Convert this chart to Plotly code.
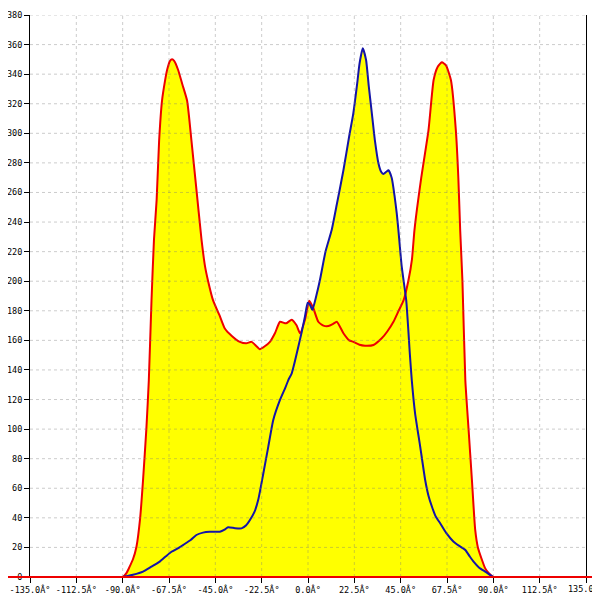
import plotly.graph_objects as go

# angle histogram
red_deg = [-180, -90, -88, -86.6, -85, -83.3, -81.5, -80.1, -78.5, -77.3, -76, -74.8, -73.5,
           -72.3, -70.9, -69.5, -68.4, -67, -66, -65, -63.1, -61, -58.7, -56.6, -54.4, -51.7,
           -50, -48.5, -46.1, -43, -40.4, -37, -33.1, -30, -27.4, -25, -23.4, -21, -18.5, -16,
           -13.6, -10.7, -7.9, -5.5, -3.9, -1.5, 0.6, 2.6, 5, 7.5, 9.9, 12, 14, 17.2, 20, 22,
           25, 27.7, 31.8, 35.8, 38.5, 41.5, 44, 46.4, 48.8, 50.5, 51.7, 55, 58.5, 61, 63, 65,
           67, 69.4, 71.8, 73, 73.9, 75, 76.4, 78, 79.6, 81.2, 82.5, 84.5, 86, 87.7, 90, 180]
red_val = [0, 0, 3, 7, 12, 20.5, 40, 65.6, 100, 133, 187, 228, 255,
           295, 322, 335, 343, 349, 350, 349, 343, 333, 322, 295, 265, 228,
           210, 200, 187, 177, 168, 163, 159, 158, 159, 156, 154, 156, 159, 165,
           172.6, 171.5, 174, 170, 164.8, 173.8, 186.8, 181.7, 172.6, 170, 169.7, 171, 172.6, 164.8, 160, 159,
           157, 156.4, 156.9, 161.4, 166, 172.6, 180, 187, 200.8, 215, 234.6, 270, 302, 336, 345, 348,
           346, 336, 302, 270, 234.6, 200, 133, 99.4, 65.6, 31.8, 20, 11.5, 6, 2.7, 0, 0]

blue_deg = [-90, -85, -80.1, -76, -72, -69, -66.3, -63, -60.7, -57, -54.2, -51, -47.7, -42.8,
            -40.5, -38.8, -35.5, -32.3, -30, -28.2, -26, -24.2, -21.7, -19.3, -16.9, -13.6, -11,
            -9.6, -7.9, -6.5, -4.7, -3, -1.5, -0.15, 1, 2.1, 4, 5.8, 8.5, 11.5, 14, 17.2, 20, 22,
            24, 25, 26.6, 28.2, 29.5, 31, 32.5, 34.2, 35.5, 36.6, 38, 39.1, 40.7, 42, 43.1, 43.9,
            45.5, 47.7, 49.5, 50.4, 52, 54.5, 56.9, 58.5, 60.2, 62, 64.2, 67, 70.7, 73.5, 76.4,
            78.5, 80.4, 83, 86.1, 89.4, 90]
blue_val = [0, 1.5, 3.6, 7, 10.4, 14, 17.1, 19.5, 21.6, 25, 28.4, 30, 30.6, 30.6,
            32, 33.6, 33, 32.9, 35, 38.5, 44, 52, 70, 88, 106, 119.7, 128,
            133, 137.7, 145, 155.7, 166, 176, 185.5, 184, 180.5, 190, 200.8, 220, 234.6, 252, 275, 298, 313.5,
            335, 347, 357.5, 349.6, 332, 313.5, 295, 279.7, 274, 272.5, 274, 275, 269.6, 258, 245.9, 234.6,
            210, 187, 150, 133, 110.7, 88, 65.6, 55, 47.5, 41, 36.3, 30, 23.9, 21, 18.3,
            14, 10.4, 6.5, 3.6, 0.5, 0]

x_ticks = [-135 + 22.5 * i for i in range(13)]
x_labels = [f"{v:.1f}Â°" for v in x_ticks]
y_ticks = list(range(0, 381, 20))

fig = go.Figure()

# yellow area under both curves, lines drawn afterwards
fig.add_trace(go.Scatter(x=blue_deg, y=blue_val, fill="tozeroy", fillcolor="#ffff00",
                         mode="lines", line=dict(width=0, shape="spline", smoothing=0.5),
                         hoverinfo="skip"))
fig.add_trace(go.Scatter(x=red_deg, y=red_val, fill="tozeroy", fillcolor="#ffff00",
                         mode="lines",
                         line=dict(color="#ee0000", width=2, shape="spline", smoothing=0.5)))
fig.add_trace(go.Scatter(x=blue_deg, y=blue_val, mode="lines",
                         line=dict(color="#1414a8", width=2, shape="spline", smoothing=0.5)))

# dashed grid sits above the fill in the reference
grid = dict(color="rgba(120,120,120,0.38)", width=1, dash="3px,3px")
for t in x_ticks[1:-1]:
    fig.add_shape(type="line", x0=t, x1=t, y0=0, y1=380, xref="x", yref="y",
                  line=grid, layer="above")
for t in y_ticks[1:]:
    fig.add_shape(type="line", x0=-135, x1=135, y0=t, y1=t, xref="x", yref="y",
                  line=grid, layer="above")

# red baseline runs across the whole picture (paper refs so it is not clipped)
fig.add_shape(type="line", x0=-0.06, x1=1.03, y0=0, y1=0, xref="paper", yref="paper",
              line=dict(color="#ee0000", width=2), layer="above")

# plotly hides the last tick label because it runs off the edge; the reference shows it cut
fig.add_annotation(x=x_ticks[-1], y=0, xref="x", yref="paper", text=x_labels[-1],
                   showarrow=False, yanchor="top", yshift=-4, xanchor="center")

# page body has an 8px margin, so the figure is 592 and shifted
fig.update_layout(
    width=592, height=592,
    margin=dict(l=22, r=14, t=7, b=23),
    paper_bgcolor="white", plot_bgcolor="white",
    showlegend=False,
    font=dict(family="DejaVu Sans Mono", size=8.5, color="black"),
)
fig.update_xaxes(range=[-135, 135], tickvals=x_ticks, ticktext=x_labels[:-1] + [""],
                 automargin=False, showgrid=False, zeroline=False, showline=True,
                 linecolor="black", linewidth=1, ticks="outside", ticklen=5, tickcolor="black")
fig.update_yaxes(range=[0, 380], tickvals=y_ticks, showgrid=False, zeroline=False,
                 automargin=False, showline=True, linecolor="black", linewidth=1, mirror=True,
                 ticks="outside", ticklen=5, tickcolor="black")

fig.write_html("out.html")
